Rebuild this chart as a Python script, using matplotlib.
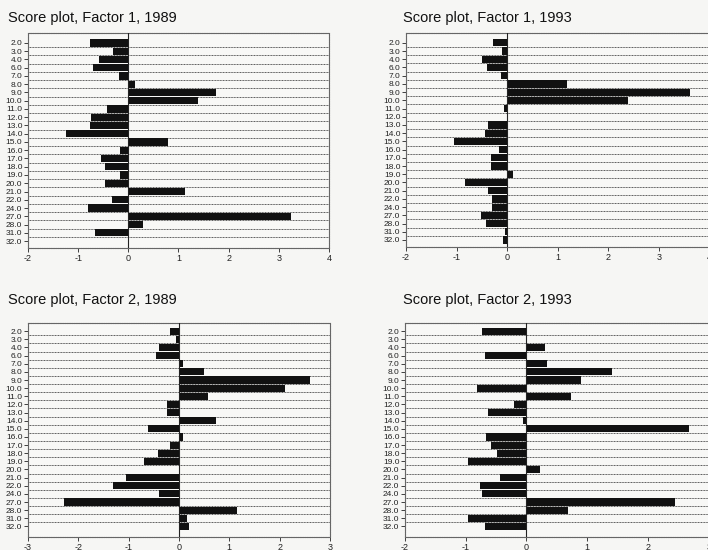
import matplotlib.pyplot as plt
import numpy as np

# case labels, shared by all four panels
cases = ['2.0', '3.0', '4.0', '6.0', '7.0', '8.0', '9.0', '10.0', '11.0', '12.0',
         '13.0', '14.0', '15.0', '16.0', '17.0', '18.0', '19.0', '20.0', '21.0',
         '22.0', '24.0', '27.0', '28.0', '31.0', '32.0']

f1_1989 = [-0.77, -0.30, -0.58, -0.71, -0.19, 0.13, 1.75, 1.38, -0.42, -0.74,
           -0.76, -1.25, 0.80, -0.17, -0.54, -0.47, -0.16, -0.46, 1.12, -0.33,
           -0.81, 3.24, 0.30, -0.66, 0.0]
f1_1993 = [-0.28, -0.11, -0.50, -0.40, -0.12, 1.18, 3.62, 2.38, -0.07, 0.0,
           -0.37, -0.44, -1.05, -0.17, -0.33, -0.33, 0.11, -0.83, -0.38, -0.30,
           -0.30, -0.52, -0.42, -0.05, -0.09]
f2_1989 = [-0.17, -0.05, -0.40, -0.46, 0.07, 0.49, 2.60, 2.11, 0.58, -0.23,
           -0.23, 0.73, -0.61, 0.07, -0.17, -0.41, -0.69, 0.0, -1.05, -1.32,
           -0.39, -2.28, 1.15, 0.16, 0.20]
f2_1993 = [-0.73, 0.0, 0.31, -0.68, 0.33, 1.41, 0.89, -0.82, 0.74, -0.20,
           -0.64, -0.06, 2.67, -0.67, -0.59, -0.49, -0.96, 0.22, -0.43, -0.77,
           -0.73, 2.44, 0.69, -0.97, -0.69]

titles = ['Score plot, Factor 1, 1989', 'Score plot, Factor 1, 1993',
          'Score plot, Factor 2, 1989', 'Score plot, Factor 2, 1993']
xlims = [(-2, 4), (-2, 4), (-3, 3), (-2, 3)]

plt.rcParams['font.family'] = ['Liberation Sans Narrow', 'Liberation Sans', 'DejaVu Sans']
plt.rcParams['axes.unicode_minus'] = False

fig = plt.figure(figsize=(7.08, 5.5), dpi=100)
fig.patch.set_facecolor('#f6f6f4')

# [left, bottom, width, height] in figure fraction
boxes = [[0.0395, 0.549, 0.4252, 0.391],
         [0.5734, 0.551, 0.4290, 0.389],
         [0.0395, 0.0236, 0.4266, 0.389],
         [0.5720, 0.0236, 0.4290, 0.389]]
title_pos = [(8, 18), (403, 18), (8, 300), (403, 300)]
ylims = [(24.85, -1.2), (24.85, -1.2), (25.3, -1.0), (25.3, -1.0)]

data = [f1_1989, f1_1993, f2_1989, f2_1993]
y = np.arange(len(cases))

for i in range(4):
    ax = fig.add_axes(boxes[i])
    ax.set_facecolor('#f8f8f6')
    # band separators
    for b in range(len(cases) - 1):
        ax.axhline(b + 0.5, color='#555555', lw=0.7, ls=(0, (1, 0.6)), zorder=1)
    ax.barh(y, data[i], height=0.88, color='#111111', zorder=2)
    ax.axvline(0, color='#222222', lw=0.8, zorder=3)
    ax.set_xlim(*xlims[i])
    ax.set_ylim(*ylims[i])
    ax.set_yticks(y)
    ax.set_yticklabels(cases, fontsize=6)
    ax.set_xticks(np.arange(xlims[i][0], xlims[i][1] + 1))
    ax.tick_params(axis='both', labelsize=6.5, length=3, width=0.6, pad=1,
                   colors='#222222')
    ax.tick_params(axis='y', labelsize=6)
    for s in ax.spines.values():
        s.set_color('#666666')
        s.set_linewidth(0.8)
        s.set_linestyle((0, (1, 0.6)))
    fig.text(title_pos[i][0] / 708, 1 - title_pos[i][1] / 550, titles[i],
             fontsize=10.5, va='center', ha='left', color='#111111',
             family=['Liberation Sans', 'DejaVu Sans'])

plt.savefig('out.png', dpi=100, facecolor=fig.get_facecolor())
